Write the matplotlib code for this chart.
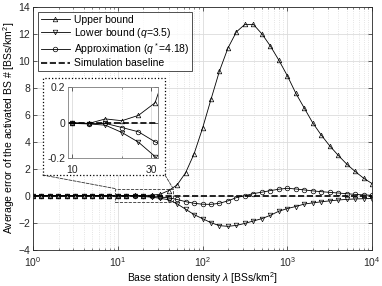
import numpy as np
import matplotlib
matplotlib.use("Agg")
import matplotlib.pyplot as plt
from matplotlib.patches import Rectangle, ConnectionPatch

plt.rcParams['font.family'] = ['Liberation Sans', 'DejaVu Sans']
plt.rcParams['mathtext.fontset'] = 'custom'
plt.rcParams['mathtext.rm'] = 'Liberation Sans'
plt.rcParams['mathtext.it'] = 'Liberation Sans:italic'

# BS density, 10 points per decade
lam = np.logspace(0, 4, 41)

upper = [0, 0, 0, 0, 0, 0, 0, 0, 0, 0,
         0, -0.005, 0.02, 0.01, 0.04, 0.11, 0.38, 0.8, 1.7, 3.1,
         5.0, 7.15, 9.25, 10.95, 12.15, 12.7, 12.7, 12.0, 11.1, 10.05,
         8.9, 7.6, 6.5, 5.4, 4.5, 3.7, 3.0, 2.35, 1.8, 1.3, 0.9]
lower = [0, 0, 0, 0, 0, 0, 0, 0, 0, 0,
         -0.005, -0.008, -0.015, -0.056, -0.11, -0.19, -0.3, -0.6, -1.0, -1.4,
         -1.7, -2.0, -2.22, -2.27, -2.2, -2.05, -1.87, -1.7, -1.45, -1.15,
         -0.95, -0.8, -0.62, -0.53, -0.45, -0.38, -0.32, -0.27, -0.24, -0.22, -0.21]
approx = [0, 0, 0, 0, 0, 0, 0, 0, 0, 0,
          -0.005, -0.006, -0.005, -0.028, -0.052, -0.108, -0.15, -0.28, -0.44, -0.56,
          -0.63, -0.64, -0.56, -0.38, -0.14, 0.0, 0.16, 0.26, 0.38, 0.48,
          0.55, 0.5, 0.43, 0.36, 0.3, 0.25, 0.2, 0.15, 0.1, 0.06, 0.03]
baseline = [0] * 41

labels = ["Upper bound", "Lower bound ($q$=3.5)",
          "Approximation ($q^*$=4.18)", "Simulation baseline"]

GRID = "#dcdcdc"
FRAME = "#262626"


def style_axes(a, fs):
    a.set_xscale("log")
    a.grid(True, which="major", color=GRID, lw=0.6)
    a.grid(True, which="minor", axis="x", color=GRID, lw=0.6, ls=":")
    a.tick_params(which="both", direction="in", top=True, right=True,
                  labelsize=fs, colors=FRAME, pad=2)
    a.tick_params(which="major", length=3, width=0.5)
    a.tick_params(which="minor", length=1.5, width=0.4)
    for s in a.spines.values():
        s.set_color(FRAME)
        s.set_linewidth(0.6)
    a.set_axisbelow(True)


def draw_series(a, ms):
    kw = dict(color="black", lw=0.6, ms=ms, mfc="none", mew=0.5)
    a.plot(lam, upper, marker="^", label=labels[0], **kw)
    a.plot(lam, lower, marker="v", label=labels[1], **kw)
    a.plot(lam, approx, marker="o", label=labels[2], **kw)
    a.plot(lam, baseline, "k--", lw=1.2, label=labels[3])


fig = plt.figure(figsize=(3.82, 2.86), dpi=100)
ax = fig.add_axes([0.0864, 0.127, 0.8876, 0.849])
style_axes(ax, 7.5)
ax.tick_params(axis="x", which="major", pad=4)
draw_series(ax, 3.3)
ax.set_xlim(1, 1e4)
ax.set_ylim(-4, 14)
ax.set_yticks(np.arange(-4, 15, 2))
ax.set_xticks([1, 10, 100, 1000, 10000])
ax.set_xlabel(r"Base station density $\lambda$ [BSs/km$^2$]", fontsize=7.5, labelpad=1)
ax.set_ylabel("Average error of the activated BS # [BSs/km$^2$]", fontsize=7.5, labelpad=1)

leg = ax.legend(loc="upper left", fontsize=7.5, frameon=True, fancybox=False,
                edgecolor="black", handlelength=2.8, handletextpad=0.35,
                borderpad=0.3, labelspacing=0.12, borderaxespad=0.45)
leg.get_frame().set_linewidth(0.6)

# zoom region marker on the main axes
zx0, zx1, zy0, zy1 = 9.3, 45, -0.44, 0.53
ax.add_patch(Rectangle((zx0, zy0), zx1 - zx0, zy1 - zy0, fill=False,
                       ls="--", lw=0.6, ec="#333333", zorder=5))

# dotted box behind the inset
bx0, by0, bw, bh = 0.1118, 0.388, 0.320, 0.338
ax.add_patch(Rectangle((bx0, by0), bw, bh, transform=fig.transFigure,
                       fc="white", ec="black", ls=":", lw=0.9,
                       clip_on=False, zorder=6))
for fx, dx in [(bx0, zx0), (bx0 + bw, zx1)]:
    con = ConnectionPatch(xyA=(fx, by0), coordsA="figure fraction",
                          xyB=(dx, zy1), coordsB="data", axesB=ax,
                          ls="--", lw=0.6, color="#333333")
    fig.add_artist(con)

ins = fig.add_axes([0.1788, 0.4465, 0.2356, 0.2503])
style_axes(ins, 7.5)
ins.tick_params(axis="x", which="major", pad=5)
draw_series(ins, 3.3)
ins.set_xlim(9.45, 33.1)
ins.set_ylim(-0.2, 0.2)
ins.set_yticks([-0.2, 0, 0.2])
ins.set_yticklabels(["-0.2", "0", "0.2"])
ins.set_xticks([10, 30])
ins.set_xticklabels(["10", "30"])
ins.xaxis.set_minor_formatter(plt.NullFormatter())
for s in ins.spines.values():
    s.set_color("#808080")

fig.savefig("out.png", dpi=100)
